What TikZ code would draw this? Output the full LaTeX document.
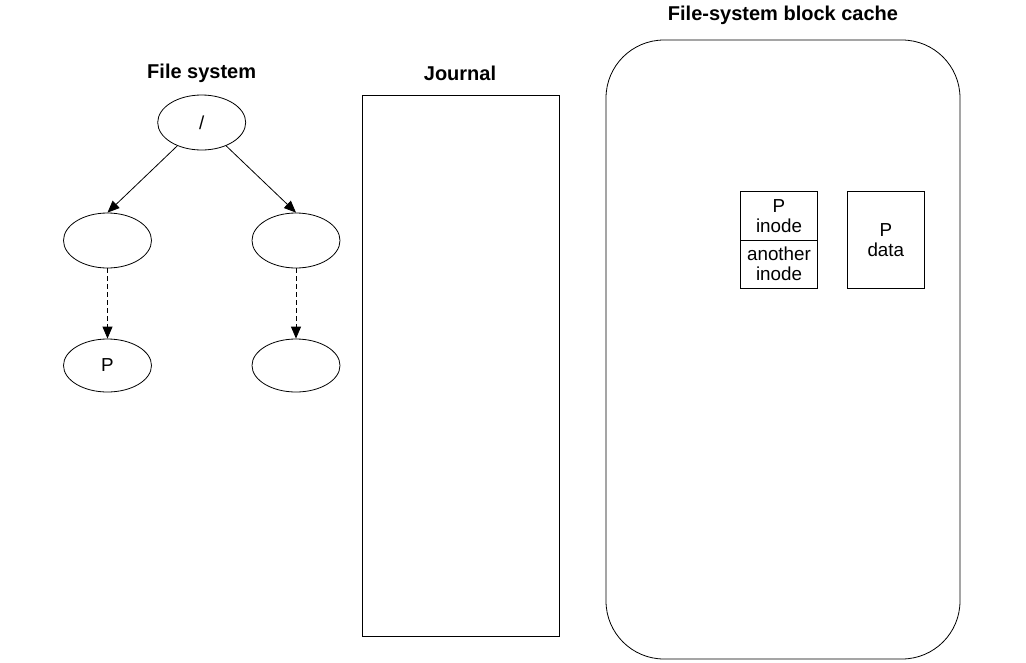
\documentclass[tikz,border=0pt]{standalone}
\usepackage{fontspec}
\setmainfont{Liberation Sans}
\usetikzlibrary{arrows.meta,shapes.geometric}
\begin{document}
\begin{tikzpicture}[x=1pt,y=-1pt,
  every node/.style={font=\fontsize{18.8}{23}\selectfont},
  tnode/.style={draw,ellipse,minimum width=88pt,minimum height=55pt,inner sep=0pt,line width=0.8pt},
  ttl/.style={font=\fontsize{20}{24}\selectfont\bfseries},
  arr/.style={-{Triangle[length=12pt,width=10pt]},line width=0.8pt},
  darr/.style={arr,dashed,dash pattern=on 5pt off 3pt},
  blk/.style={draw,line width=0.8pt,inner sep=0pt}]
\useasboundingbox (0,0) rectangle (1026,662);
% titles
\node[ttl] (tfs) at (201.7,73) {File system};
\node[ttl] (tj) at (460,73) {Journal};
\node[ttl] (tc) at (783,15) {File-system block cache};
% tree
\node[tnode] (root) at (201.7,122.5) {/};
\node[tnode] (ml) at (107.5,240.5) {};
\node[tnode] (mr) at (296,240.5) {};
\node[tnode,minimum height=53pt] (bl) at (107.5,365.5) {P};
\node[tnode,minimum height=53pt] (br) at (296,365.5) {};
\draw[arr] (root) -- (ml.north);
\draw[arr] (root) -- (mr.north);
\draw[darr] (ml) -- (bl);
\draw[darr] (mr) -- (br);
% journal
\node[blk,minimum width=197pt,minimum height=541pt] (jr) at (461,365.5) {};
% cache
\node[blk,rounded corners=58pt,minimum width=354pt,minimum height=619pt] (cache) at (783,349.5) {};
% inode block
\node[blk,minimum width=76.6pt,minimum height=48.3pt,align=center] (pin) at (779,216) {P\\[-3pt]inode};
\node[blk,minimum width=76.6pt,minimum height=48.3pt,align=center] (ain) at (779,264.2) {another\\[-3pt]inode};
\node[blk,minimum width=76.3pt,minimum height=96.6pt,align=center] (pd) at (885.8,240) {};
\node[align=center] (pdt) at (885.8,240) {P\\[-3pt]data};
\end{tikzpicture}
\end{document}
